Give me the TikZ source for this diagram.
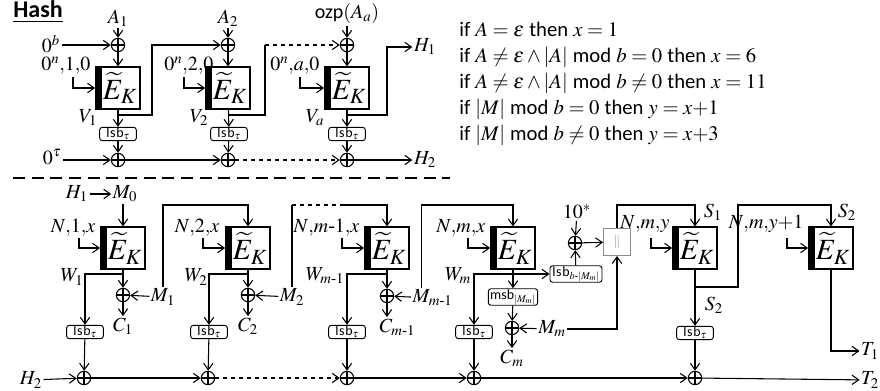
\documentclass[tikz,border=0pt]{standalone}
\usepackage{amsmath}
\usepackage{mathptmx}
\usepackage[no-math]{fontspec}
\setmainfont{Liberation Serif}
\setsansfont{Carlito}
\usetikzlibrary{arrows.meta}
\definecolor{CatGray}{HTML}{8A8A8A}
\newcommand{\lsbt}{\textsf{l\kern.5pt s\kern.5pt b}$_{\tau}$}
\newcommand{\EK}{\hspace*{3pt}$\widetilde{E}_K$}

\begin{document}
\begin{tikzpicture}[x=0.75pt,y=-0.75pt,
      lbl/.style={inner sep=1pt,font=\fontsize{15}{17}\selectfont},
      xr/.style={circle,draw,line width=0.8pt,inner sep=0pt,minimum size=10pt,
                 path picture={\draw[line width=0.8pt] (path picture bounding box.north)--(path picture bounding box.south)
                   (path picture bounding box.west)--(path picture bounding box.east);}},
      ek/.style={draw,line width=1.3pt,minimum width=33pt,minimum height=31pt,inner sep=0pt,
                 font=\fontsize{22}{24}\selectfont,
                 path picture={\fill (path picture bounding box.south west) rectangle
                   ([xshift=4.5pt]path picture bounding box.north west);}},
      lsb/.style={draw,rounded corners=2pt,line width=0.7pt,minimum width=27.5pt,minimum height=9.5pt,
                  inner sep=0.5pt,font=\fontsize{10.5}{11}\selectfont},
      cat/.style={draw=CatGray,line width=0.9pt,minimum size=20pt,inner sep=0pt,text=CatGray,font=\sffamily},
      arr/.style={line width=0.8pt,-{Straight Barb[length=5pt,width=7pt]}},
      ln/.style={line width=0.8pt},
      sep/.style={line width=2pt,dash pattern=on 9pt off 5pt}]
    \useasboundingbox (0,0) rectangle (880,391);
    \coordinate (ry) at (0,205);

    % hash part
    \node[font=\sffamily\bfseries\fontsize{18}{20}\selectfont] (hash) at (38,12) {\underline{Hash}};
    \node[lbl] (A1) at (118,18) {$A_1$};
    \node[xr] (xa1) at (118,45) {};
    \node[ek] (ea1) at (118,88) {\EK};
    \node[lsb] (la1) at (118,134) {\lsbt};
    \node[xr] (xh1) at (118,160) {};
    \node[lbl] (zb) at (51,44) {$0^b$};
    \node[lbl,anchor=east] (tw1) at (92,66) {$0^n{,}1{,}0$};
    \coordinate (tp1) at (73,77);
    \node[lbl] (V1) at (88,118) {$V_1$};
    \node[lbl] (zt) at (52,157) {$0^\tau$};
    \coordinate (ba1) at (118,115);
    \coordinate (ca1) at (152,115);

    \node[lbl] (A2) at (228,18) {$A_2$};
    \node[xr] (xa2) at (228,45) {};
    \node[ek] (ea2) at (228,88) {\EK};
    \node[lsb] (la2) at (229,134) {\lsbt};
    \node[xr] (xh2) at (228,160) {};
    \node[lbl,anchor=east] (tw2) at (215,66) {$0^n{,}2{,}0$};
    \coordinate (tp2) at (184,77);
    \node[lbl] (V2) at (199,118) {$V_2$};
    \coordinate (ba2) at (228,115);
    \coordinate (ca2) at (265,115);
    \coordinate (da2) at (265,45);

    \node[lbl] (Aa) at (347,14) {\textsf{ozp}$(A_a)$};
    \node[xr] (xaa) at (347,45) {};
    \node[ek] (eaa) at (347,88) {\EK};
    \node[lsb] (laa) at (347,134) {\lsbt};
    \node[xr] (xha) at (347,160) {};
    \node[lbl,anchor=east] (twa) at (321,66) {$0^n{,}a{,}0$};
    \coordinate (tpa) at (300,77);
    \node[lbl] (Va) at (315,118) {$V_a$};
    \coordinate (baa) at (347,115);
    \coordinate (caa) at (387,115);
    \node[lbl] (H1) at (425,47) {$H_1$};
    \node[lbl] (H2) at (425,160) {$H_2$};

    \draw[arr] (A1) -- (xa1); \draw[arr] (zb.east |- xa1) -- (xa1);
    \draw[arr] (xa1) -- (ea1); \draw[arr] (tp1) |- (ea1);
    \draw[arr] (ea1) -- (la1); \draw[arr] (la1) -- (xh1);
    \draw[arr] (zt.east |- xh1) -- (xh1);
    \draw[arr] (ba1) -- (ca1) |- (xa2);
    \draw[arr] (A2) -- (xa2); \draw[arr] (xa2) -- (ea2); \draw[arr] (tp2) |- (ea2);
    \draw[arr] (ea2) -- (la2); \draw[arr] (la2) -- (xh2);
    \draw[ln] (ba2) -- (ca2) -- (da2); \draw[arr,dashed] (da2) -- (xaa);
    \draw[arr] (Aa) -- (xaa); \draw[arr] (xaa) -- (eaa); \draw[arr] (tpa) |- (eaa);
    \draw[arr] (eaa) -- (laa); \draw[arr] (laa) -- (xha);
    \draw[arr] (baa) -- (caa) |- (H1);
    \draw[arr] (xh1) -- (xh2); \draw[arr,dashed] (xh2) -- (xha); \draw[arr] (xha) -- (H2);

    \node[anchor=north west,align=left,inner sep=0pt,font=\fontsize{15.5}{19.4}\selectfont] (cond) at (459,22)
      {\textsf{if} $A=\varepsilon$ \textsf{then} $x=1$\\
       \textsf{if} $A\neq\varepsilon\wedge|A|$ \textsf{mod} $b=0$ \textsf{then} $x=6$\\
       \textsf{if} $A\neq\varepsilon\wedge|A|$ \textsf{mod} $b\neq0$ \textsf{then} $x=11$\\
       \textsf{if} $|M|$ \textsf{mod} $b=0$ \textsf{then} $y=x{+}1$\\
       \textsf{if} $|M|$ \textsf{mod} $b\neq0$ \textsf{then} $y=x{+}3$};

    \coordinate (sepL) at (13,178); \coordinate (sepR) at (450,178);
    \draw[sep] (sepL) -- (sepR);

    % encryption part
    \node[lbl] (H1b) at (77,194) {$H_1$};
    \node[lbl] (M0) at (125,194) {$M_0$};
    \node[ek] (EB1) at (123,248) {\EK};
    \node[lbl,anchor=east] (tb1) at (97,228) {$N{,}1{,}x$};
    \coordinate (tq1) at (79,238);
    \node[lbl] (W1) at (72,277) {$W_1$};
    \coordinate (bb1) at (123,274);
    \node[xr] (xc1) at (123,295) {};
    \node[lbl] (M1) at (163,297) {$M_1$};
    \node[lbl] (C1) at (123,326) {$C_1$};
    \node[lsb] (lb1) at (85,332) {\lsbt};
    \node[xr] (xd1) at (84,378) {};
    \node[lbl] (H2b) at (31,380) {$H_2$};

    \node[ek] (EB2) at (248,248) {\EK};
    \node[lbl,anchor=east] (tb2) at (221,228) {$N{,}2{,}x$};
    \coordinate (tq2) at (203,238);
    \node[lbl] (W2) at (196,277) {$W_2$};
    \coordinate (bb2) at (248,274);
    \node[xr] (xc2) at (248,295) {};
    \node[lbl] (M2) at (292,297) {$M_2$};
    \node[lbl] (C2) at (248,326) {$C_2$};
    \node[lsb] (lb2) at (209,332) {\lsbt};
    \node[xr] (xd2) at (208,378) {};
    \coordinate (dm2) at (292,205);
    \coordinate (sm2) at (342,205);

    \node[ek] (EBm1) at (387,248) {\EK};
    \node[lbl,anchor=east] (tbm1) at (361,228) {$N{,}m\text{-}1{,}x$};
    \coordinate (tqm1) at (342,238);
    \node[lbl] (Wm1) at (325,276) {$W_{m\text{-}1}$};
    \coordinate (bbm1) at (387,274);
    \node[xr] (xcm1) at (387,296) {};
    \node[lbl,anchor=west] (Mm1) at (411,298) {$M_{m\text{-}1}$};
    \node[lbl,anchor=west] (Cm1) at (378,327) {$C_{m\text{-}1}$};
    \node[lsb] (lbm1) at (347,332) {\lsbt};
    \node[xr] (xdm1) at (347,378) {};

    \node[ek] (EBm) at (513,248) {\EK};
    \node[lbl,anchor=east] (tbm) at (487,228) {$N{,}m{,}x$};
    \coordinate (tqm) at (468,238);
    \node[lbl] (Wm) at (458,276) {$W_m$};
    \coordinate (bbm) at (513,274);
    \node[lsb,minimum width=39pt,minimum height=12pt] (lsbm) at (576,274) {\textsf{l\kern.5pt s\kern.5pt b}$_{b\text{-}|M_m|}$};
    \node[lsb,minimum width=37pt,minimum height=11pt] (msb) at (513,297) {\textsf{msb}$_{|M_m|}$};
    \node[xr] (xcm) at (512,328) {};
    \node[lbl] (Mm) at (552,329) {$M_m$};
    \node[lbl] (Cm) at (512,358) {$C_m$};
    \node[lsb] (lbm) at (474,332) {\lsbt};
    \node[xr] (xdm) at (474,378) {};
    \node[lbl] (ten) at (577,212) {$10^*$};
    \node[xr] (xe) at (575,243) {};
    \node[cat] (catn) at (617,242) {$\|$};

    \node[ek] (EBs) at (695,248) {\EK};
    \node[lbl,anchor=east] (tbs) at (671,224) {$N{,}m{,}y$};
    \coordinate (tqs) at (651,238);
    \node[lbl] (S1) at (713,212) {$S_1$};
    \coordinate (bbs) at (695,287);
    \coordinate (cbs) at (738,287);
    \node[lbl] (S2a) at (714,305) {$S_2$};
    \node[lsb] (lbs) at (695,333) {\lsbt};
    \node[xr] (xds) at (695,378) {};

    \node[ek] (EBt) at (831,248) {\EK};
    \node[lbl,anchor=east] (tbt) at (805,224) {$N{,}m{,}y{+}1$};
    \coordinate (tqt) at (787,238);
    \node[lbl] (S2b) at (847,212) {$S_2$};
    \node[lbl] (T1) at (870,351) {$T_1$};
    \node[lbl] (T2) at (870,380) {$T_2$};

    \draw[arr] (H1b) -- (M0); \draw[arr] (EB1 |- M0.south) -- (EB1);
    \draw[arr] (tq1) |- (EB1); \draw[arr] (EB1) -- (xc1); \draw[arr] (bb1) -| (lb1);
    \draw[arr] (M1) -- (xc1); \draw[arr] (xc1) -- (C1);
    \draw[arr] (M1) |- (EB2 |- ry) -- (EB2);
    \draw[arr] (lb1) -- (xd1); \draw[arr] (H2b) -- (xd1);

    \draw[arr] (tq2) |- (EB2); \draw[arr] (EB2) -- (xc2); \draw[arr] (bb2) -| (lb2);
    \draw[arr] (M2) -- (xc2); \draw[arr] (xc2) -- (C2);
    \draw[ln] (M2) |- (dm2); \draw[ln,dashed] (dm2) -- (sm2); \draw[arr] (sm2) -| (EBm1);
    \draw[arr] (lb2) -- (xd2);

    \draw[arr] (tqm1) |- (EBm1); \draw[arr] (EBm1) -- (xcm1); \draw[arr] (bbm1) -| (lbm1);
    \draw[arr] (Mm1) -- (xcm1); \draw[arr] (xcm1) -- (xcm1 |- Cm1.north);
    \draw[arr] ([xshift=-8pt]Mm1.north) |- (EBm |- ry) -- (EBm);
    \draw[arr] (lbm1) -- (xdm1);

    \draw[arr] (tqm) |- (EBm); \draw[arr] (EBm) -- (msb); \draw[arr] (bbm) -| (lbm);
    \draw[arr] (bbm) -- (lsbm); \draw[arr] (msb) -- (xcm);
    \draw[arr] (Mm) -- (xcm); \draw[arr] (xcm) -- (Cm);
    \draw[arr] (Mm) -| (catn);
    \draw[arr] (ten) -- (xe); \draw[arr] (lsbm) -- (xe); \draw[arr] (xe) -- (catn);
    \draw[arr] (catn) |- (EBs |- ry) -- (EBs);
    \draw[arr] (lbm) -- (xdm);

    \draw[arr] (tqs) |- (EBs); \draw[arr] (EBs) -- (lbs); \draw[arr] (lbs) -- (xds);
    \draw[arr] (bbs) -- (cbs) |- (EBt |- ry) -- (EBt);
    \draw[arr] (tqt) |- (EBt); \draw[arr] (EBt) |- (T1);

    \draw[arr] (xd1) -- (xd2); \draw[arr,dashed] (xd2) -- (xdm1);
    \draw[arr] (xdm1) -- (xdm); \draw[arr] (xdm) -- (xds); \draw[arr] (xds) -- (T2);
  \end{tikzpicture}
\end{document}
